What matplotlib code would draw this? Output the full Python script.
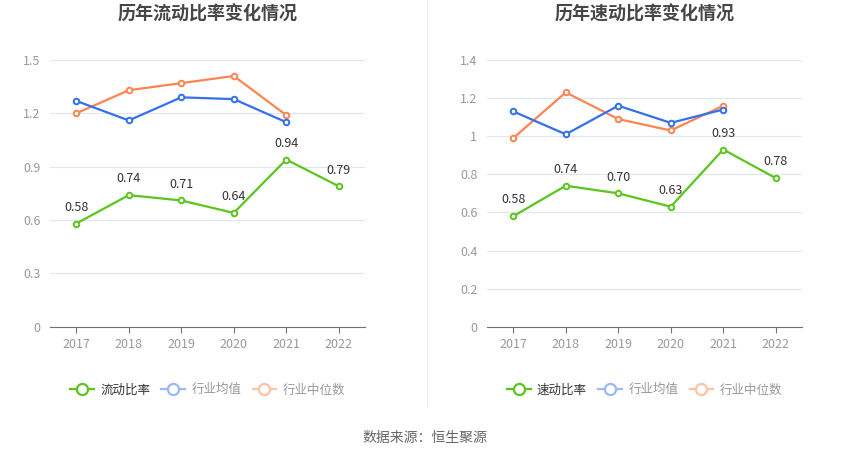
import matplotlib
matplotlib.use("Agg")
import matplotlib.pyplot as plt
from matplotlib.lines import Line2D

plt.rcParams['font.family'] = ['Noto Sans CJK SC', 'DejaVu Sans']

years = ['2017', '2018', '2019', '2020', '2021', '2022']

# left chart: current ratio
current_ratio = [0.58, 0.74, 0.71, 0.64, 0.94, 0.79]
current_mean = [1.27, 1.16, 1.29, 1.28, 1.15]
current_median = [1.20, 1.33, 1.37, 1.41, 1.19]

# right chart: quick ratio
quick_ratio = [0.58, 0.74, 0.70, 0.63, 0.93, 0.78]
quick_mean = [1.13, 1.01, 1.16, 1.07, 1.14]
quick_median = [0.99, 1.23, 1.09, 1.03, 1.16]

green = '#5BC51E'
blue = '#3370EB'
orange = '#FF8452'
W, H = 850, 459

fig = plt.figure(figsize=(W / 100, H / 100), dpi=100)


def px_axes(x0, x1, ytop, ybot):
    return fig.add_axes([x0 / W, 1 - ybot / H, (x1 - x0) / W, (ybot - ytop) / H])


def draw_panel(ax, title, name, main, mean, median, ymax, yticks, ylabels):
    x = list(range(len(years)))
    ax.plot(x[:len(median)], median, color=orange, lw=1.6, marker='o', ms=4,
            mfc='white', mec=orange, mew=1.4, zorder=3)
    ax.plot(x[:len(mean)], mean, color=blue, lw=1.6, marker='o', ms=4,
            mfc='white', mec=blue, mew=1.4, zorder=3)
    ax.plot(x, main, color=green, lw=1.6, marker='o', ms=4,
            mfc='white', mec=green, mew=1.4, zorder=4)
    for xi, v in zip(x, main):
        ax.annotate(f'{v:.2f}', (xi, v), xytext=(0, 7), textcoords='offset points',
                    ha='center', va='bottom', fontsize=9, color='#333333')

    ax.set_xlim(-0.5, len(years) - 0.5)
    ax.set_ylim(0, ymax)
    ax.set_xticks(x)
    ax.set_xticklabels(years)
    ax.set_yticks(yticks)
    ax.set_yticklabels(ylabels)
    ax.tick_params(axis='x', colors='#6E7079', labelcolor='#999999', labelsize=9,
                   length=4, width=0.8, pad=4)
    ax.tick_params(axis='y', length=0, labelcolor='#999999', labelsize=9, pad=7)
    ax.grid(axis='y', color='#E0E6F1', lw=0.8)
    ax.set_axisbelow(True)
    for s in ['top', 'right', 'left']:
        ax.spines[s].set_visible(False)
    ax.spines['bottom'].set_color('#6E7079')
    ax.spines['bottom'].set_linewidth(0.8)
    ax.set_title(title, fontsize=13, fontweight='bold', color='#464646', pad=29)

    handles = [
        Line2D([], [], color=green, lw=1.6, marker='o', ms=8, mfc='white', mec=green, mew=1.6),
        Line2D([], [], color='#9AB8F5', lw=1.6, marker='o', ms=8, mfc='white', mec='#9AB8F5', mew=1.6),
        Line2D([], [], color='#FFC2A8', lw=1.6, marker='o', ms=8, mfc='white', mec='#FFC2A8', mew=1.6),
    ]
    leg = ax.legend(handles, [name, '行业均值', '行业中位数'], loc='center',
                    bbox_to_anchor=(0.5, -0.237), ncol=3, frameon=False, fontsize=9,
                    handlelength=1.9, handletextpad=0.5, columnspacing=0.9)
    for t, c in zip(leg.get_texts(), ['#333333', '#999999', '#999999']):
        t.set_color(c)


ax1 = px_axes(50, 365, 60, 326.7)
draw_panel(ax1, '历年流动比率变化情况', '流动比率', current_ratio, current_mean, current_median,
           1.5, [0, 0.3, 0.6, 0.9, 1.2, 1.5], ['0', '0.3', '0.6', '0.9', '1.2', '1.5'])

ax2 = px_axes(487, 802, 60, 326.7)
draw_panel(ax2, '历年速动比率变化情况', '速动比率', quick_ratio, quick_mean, quick_median,
           1.4, [0, 0.2, 0.4, 0.6, 0.8, 1.0, 1.2, 1.4], ['0', '0.2', '0.4', '0.6', '0.8', '1', '1.2', '1.4'])

# divider between the two panels
fig.add_artist(Line2D([427 / W, 427 / W], [1 - 407 / H, 1], color='#EEEEEE', lw=0.8))

fig.text(425 / W, 1 - 438 / H, '数据来源：恒生聚源', ha='center', va='center',
         fontsize=10, color='#666666')

fig.savefig('out.png', dpi=100)
